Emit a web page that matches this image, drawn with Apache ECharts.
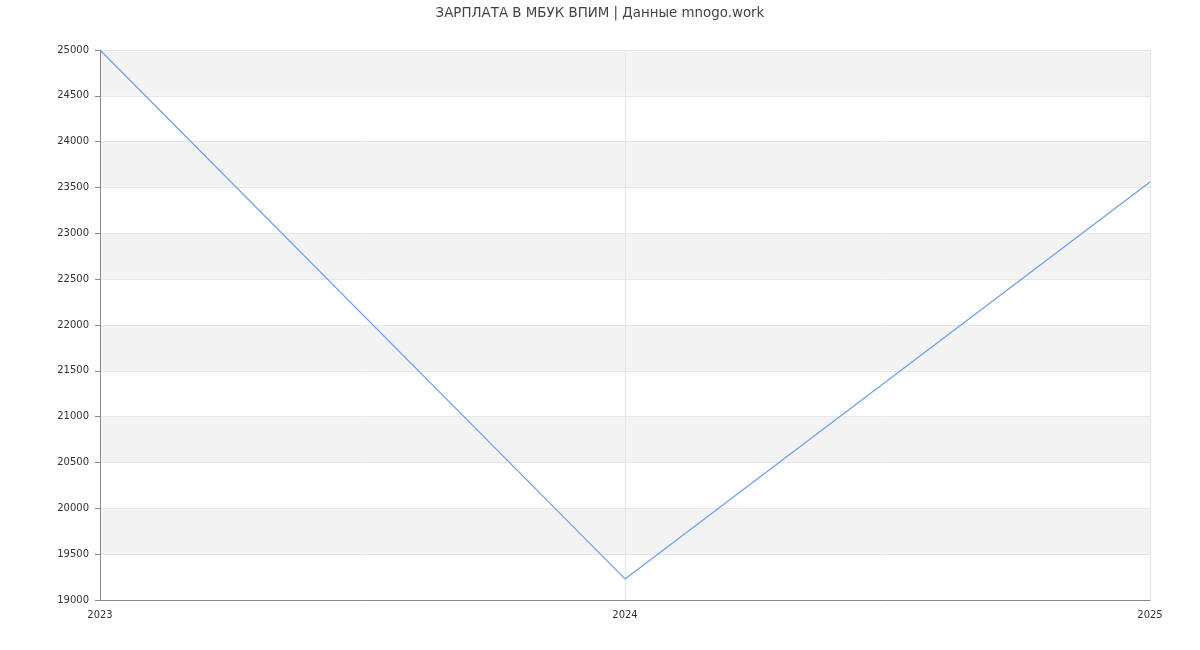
<!DOCTYPE html>
<html><head><meta charset="utf-8">
<script src="https://cdn.jsdelivr.net/npm/echarts@6/dist/echarts.min.js"></script>
<style>html,body{margin:0;padding:0;background:#fff}#c{width:1200px;height:650px}</style>
</head><body><div id="c"></div>
<script>
const years = ['2023', '2024', '2025'];
const salary = [25000, 19230, 23560];
const titleText = 'ЗАРПЛАТА В МБУК ВПИМ | Данные mnogo.work';

const chart = echarts.init(document.getElementById('c'), null, {renderer: 'canvas'});
chart.setOption({
  animation: false,
  textStyle: {fontFamily: 'DejaVu Sans'},
  title: {text: titleText, left: 'center', top: 2,
    textStyle: {fontSize: 13.4, fontWeight: 'normal', color: '#444', fontFamily: 'DejaVu Sans'}},
  grid: {left: 100, right: 50, top: 50, bottom: 50},
  xAxis: {type: 'category', data: years, boundaryGap: false,
    axisLine: {lineStyle: {color: '#888'}},
    axisTick: {show: false},
    axisLabel: {color: '#333', fontSize: 10, margin: 10},
    splitLine: {show: true, lineStyle: {color: '#e6e6e6'}}},
  yAxis: {type: 'value', min: 19000, max: 25000, interval: 500,
    axisLine: {show: true, lineStyle: {color: '#888'}},
    axisTick: {show: true, length: 5, lineStyle: {color: '#888'}},
    axisLabel: {color: '#333', fontSize: 10, margin: 11, formatter: v => String(v)},
    splitLine: {show: true, lineStyle: {color: '#e6e6e6'}},
    splitArea: {show: true, areaStyle: {color: ['#ffffff', '#f3f3f3']}}},
  series: [{type: 'line', data: salary, symbol: 'none',
    lineStyle: {color: '#6d9eeb', width: 1.2}}]
});
</script></body></html>
